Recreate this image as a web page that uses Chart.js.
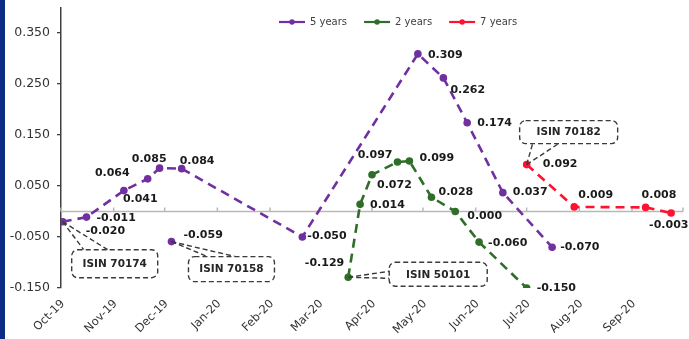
<!DOCTYPE html>
<html>
<head>
<meta charset="utf-8">
<script src="https://cdn.jsdelivr.net/npm/chart.js@4/dist/chart.umd.min.js"></script>
<style>
  html, body { margin: 0; padding: 0; background: #ffffff; }
  #wrap { position: relative; width: 689px; height: 339px; }
</style>
</head>
<body>
<div id="wrap"><canvas id="chart" width="689" height="339"></canvas></div>
<script>
// ---- values ----
const monthLabels = ['Oct-19','Nov-19','Dec-19','Jan-20','Feb-20','Mar-20','Apr-20','May-20','Jun-20','Jul-20','Aug-20','Sep-20'];
const monthStarts = ['2019-10-01','2019-11-01','2019-12-01','2020-01-01','2020-02-01','2020-03-01','2020-04-01','2020-05-01','2020-06-01','2020-07-01','2020-08-01','2020-09-01','2020-10-01'];
const yTickValues = [-0.15, -0.05, 0.05, 0.15, 0.25, 0.35];

const fiveYearDates  = ['2019-10-02','2019-10-16','2019-11-07','2019-11-21','2019-11-28','2019-12-11','2020-02-20','2020-04-28','2020-05-13','2020-05-27','2020-06-17','2020-07-16'];
const fiveYearValues = [-0.020, -0.011, 0.041, 0.064, 0.085, 0.084, -0.050, 0.309, 0.262, 0.174, 0.037, -0.070];

const isin70158Dates  = ['2019-12-05'];
const isin70158Values = [-0.059];

const twoYearDates  = ['2020-03-18','2020-03-25','2020-04-01','2020-04-16','2020-04-23','2020-05-06','2020-05-20','2020-06-03','2020-07-01'];
const twoYearValues = [-0.129, 0.014, 0.072, 0.097, 0.099, 0.028, 0.000, -0.060, -0.150];

const sevenYearDates  = ['2020-07-01','2020-07-29','2020-09-09','2020-09-24'];
const sevenYearValues = [0.092, 0.009, 0.008, -0.003];

// ---- label placement (pixel offsets from each point: dx, dy, align) ----
const fiveYearLabelPos = [[23,9,'left'],[10,1,'left'],[-1,9,'left'],[-18,-6,'right'],[7,-9,'right'],[-2,-8,'left'],[5,-1,'left'],[10,1,'left'],[7,12,'left'],[10,0,'left'],[10,0,'left'],[8,0,'left']];
const isin70158LabelPos = [[12,-6,'left']];
const twoYearLabelPos = [[-4,-14,'right'],[10,1,'left'],[5,10,'left'],[-5,-7,'right'],[10,-3,'left'],[7,-5,'left'],[12,5,'left'],[9,1,'left'],[10,0,'left']];
const sevenYearLabelPos = [[16,0,'left'],[4,-12,'left'],[-4,-12,'left'],[-22,12,'left']];

// callout boxes anchored to a point: box [dx, dy, w, h], leader ends [[dx,dy],[dx,dy]]
const callouts = [
  { text: 'ISIN 70174', ds: 0, idx: 0, box: [9, 28, 86, 28],  leaders: [[21, 28], [45, 28]] },
  { text: 'ISIN 70158', ds: 3, idx: 0, box: [17, 15, 86, 25], leaders: [[36, 15], [64, 15]] },
  { text: 'ISIN 50101', ds: 1, idx: 0, box: [41, -15, 98, 24], leaders: [[41, -6], [41, 1]] },
  { text: 'ISIN 70182', ds: 2, idx: 0, box: [-7, -44, 98, 23], leaders: [[6, -21], [32, -21]] }
];

const PURPLE = '#7030a0';
const GREEN = '#2f6e28';
const RED = '#ff1131';
const FONT = '"DejaVu Sans", Verdana, sans-serif';

const dayOf = s => {
  const [y, m, d] = s.split('-').map(Number);
  return (Date.UTC(y, m - 1, d) - Date.UTC(2019, 9, 1)) / 86400000;
};
const toPoints = (dates, values) => dates.map((d, i) => ({ x: dayOf(d), y: values[i] }));
const tickDays = monthStarts.map(dayOf);

function series(label, dates, values, color, labelPos, showLine, inLegend) {
  return {
    label, data: toPoints(dates, values),
    borderColor: color, backgroundColor: color,
    borderWidth: 2.6, borderDash: [9, 6], showLine,
    pointRadius: 3.8, pointHoverRadius: 3.8, pointBorderWidth: 0,
    labelPos, inLegend, tension: 0
  };
}

// white page with a navy strip on the left
const backdrop = {
  id: 'backdrop',
  beforeDraw(chart) {
    const c = chart.ctx;
    c.save();
    c.fillStyle = '#ffffff';
    c.fillRect(0, 0, chart.width, chart.height);
    c.fillStyle = '#0b2b85';
    c.fillRect(0, 0, 5, chart.height);
    c.restore();
  }
};

// horizontal axis line through zero with month tick marks
const zeroAxis = {
  id: 'zeroAxis',
  beforeDatasetsDraw(chart) {
    const { ctx: c, chartArea: a, scales: { x, y } } = chart;
    const y0 = y.getPixelForValue(0);
    c.save();
    c.strokeStyle = '#b8b8b8';
    c.lineWidth = 1.5;
    c.beginPath();
    c.moveTo(a.left, y0);
    c.lineTo(a.right, y0);
    tickDays.forEach(d => {
      const px = x.getPixelForValue(d);
      c.moveTo(px, y0);
      c.lineTo(px, y0 - 4);
    });
    c.stroke();
    c.restore();
  }
};

// value labels beside the points
const valueLabels = {
  id: 'valueLabels',
  afterDatasetsDraw(chart) {
    const c = chart.ctx;
    c.save();
    c.font = 'bold 11px ' + FONT;
    c.fillStyle = '#1a1a1a';
    c.textBaseline = 'middle';
    chart.data.datasets.forEach((ds, di) => {
      const meta = chart.getDatasetMeta(di);
      meta.data.forEach((pt, i) => {
        const [dx, dy, align] = ds.labelPos[i];
        c.textAlign = align;
        c.fillText(ds.data[i].y.toFixed(3), pt.x + dx, pt.y + dy);
      });
    });
    c.restore();
  }
};

// dashed rounded callouts naming the bonds
const calloutBoxes = {
  id: 'calloutBoxes',
  afterDatasetsDraw(chart) {
    const c = chart.ctx;
    c.save();
    c.strokeStyle = '#3a3a3a';
    c.lineWidth = 1.4;
    c.setLineDash([5, 3]);
    callouts.forEach(co => {
      const pt = chart.getDatasetMeta(co.ds).data[co.idx];
      const [bx, by, bw, bh] = co.box;
      c.beginPath();
      co.leaders.forEach(([lx, ly]) => {
        c.moveTo(pt.x, pt.y);
        c.lineTo(pt.x + lx, pt.y + ly);
      });
      c.stroke();
      c.beginPath();
      c.roundRect(pt.x + bx, pt.y + by, bw, bh, 6);
      c.fillStyle = '#ffffff';
      c.fill();
      c.stroke();
      c.fillStyle = '#262626';
      c.font = 'bold 10.5px ' + FONT;
      c.textAlign = 'center';
      c.textBaseline = 'middle';
      c.fillText(co.text, pt.x + bx + bw / 2, pt.y + by + bh / 2 + 0.5);
    });
    c.restore();
  }
};

// legend inside the plot area: line-dot-line symbol then name
const lineLegend = {
  id: 'lineLegend',
  afterDraw(chart) {
    const c = chart.ctx;
    const a = chart.chartArea;
    let xPos = a.left + 218;
    const yPos = a.top + 14.5;
    c.save();
    c.font = '10px ' + FONT;
    c.textBaseline = 'middle';
    c.textAlign = 'left';
    chart.data.datasets.filter(d => d.inLegend).forEach(ds => {
      c.strokeStyle = ds.borderColor;
      c.fillStyle = ds.borderColor;
      c.lineWidth = 2.2;
      c.beginPath();
      c.moveTo(xPos, yPos);
      c.lineTo(xPos + 26, yPos);
      c.stroke();
      c.beginPath();
      c.arc(xPos + 13, yPos, 2.7, 0, Math.PI * 2);
      c.fill();
      c.fillStyle = '#404040';
      c.fillText(ds.label, xPos + 31, yPos);
      xPos += 31 + c.measureText(ds.label).width + 17;
    });
    c.restore();
  }
};

new Chart(document.getElementById('chart'), {
  type: 'line',
  data: {
    datasets: [
      series('5 years', fiveYearDates, fiveYearValues, PURPLE, fiveYearLabelPos, true, true),
      series('2 years', twoYearDates, twoYearValues, GREEN, twoYearLabelPos, true, true),
      series('7 years', sevenYearDates, sevenYearValues, RED, sevenYearLabelPos, true, true),
      series('ISIN 70158', isin70158Dates, isin70158Values, PURPLE, isin70158LabelPos, false, false)
    ]
  },
  options: {
    responsive: false,
    animation: false,
    events: [],
    layout: { padding: { top: 7.5, right: 6, left: 0, bottom: 0 } },
    plugins: { legend: { display: false }, tooltip: { enabled: false } },
    scales: {
      x: {
        type: 'linear',
        min: tickDays[0],
        max: tickDays[tickDays.length - 1],
        afterBuildTicks: s => { s.ticks = tickDays.map(v => ({ value: v })); },
        afterFit: s => { s.height = 51; s.paddingLeft = 0; s.paddingRight = 0; },
        grid: { display: false, drawTicks: false },
        border: { display: false },
        ticks: {
          autoSkip: false, maxRotation: 45, minRotation: 45, padding: 9, labelOffset: 2,
          color: '#333333', font: { family: FONT, size: 11.5 },
          callback: (v, i) => monthLabels[i] || ''
        }
      },
      y: {
        min: -0.15,
        max: 0.40,
        afterBuildTicks: s => { s.ticks = yTickValues.map(v => ({ value: v })); },
        afterFit: s => { s.width = 61; s.paddingTop = 0; s.paddingBottom = 0; },
        grid: { drawOnChartArea: false, tickLength: 4, color: '#404040', lineWidth: 1.3 },
        border: { color: '#404040', width: 1.5 },
        ticks: {
          padding: 7, color: '#333333', font: { family: FONT, size: 12.5 },
          callback: v => v.toFixed(3)
        }
      }
    }
  },
  plugins: [backdrop, zeroAxis, valueLabels, calloutBoxes, lineLegend]
});
</script>
</body>
</html>
